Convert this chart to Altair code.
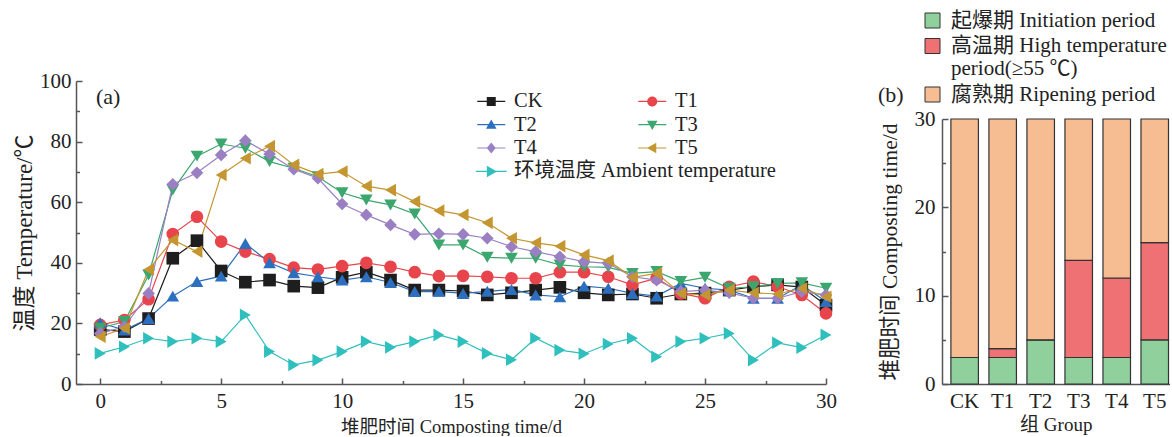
import altair as alt
import pandas as pd

FONT = "Liberation Serif, Noto Sans CJK SC"
TXT = "#222222"
AX = "#555555"

# ---------------- (a) temperature data ----------------
days = list(range(31))
CK = [18.0, 17.3, 21.6, 41.5, 47.3, 37.3, 33.6, 34.3, 32.3, 31.8, 35.2, 36.9, 34.3, 31.0, 31.0, 30.7,
      29.4, 30.1, 31.0, 31.9, 30.1, 29.4, 29.7, 28.3, 29.7, 30.0, 31.0, 32.1, 32.7, 32.0, 26.0]
T1 = [19.5, 21.1, 28.0, 49.5, 55.2, 47.0, 43.7, 41.2, 38.4, 37.8, 38.9, 40.0, 38.7, 36.9, 35.6, 35.7,
      35.4, 34.9, 34.9, 36.9, 36.9, 35.4, 32.7, 34.9, 29.9, 28.3, 32.1, 33.8, 32.1, 29.4, 23.3]
T2 = [20.2, 17.8, 21.6, 29.0, 33.8, 35.6, 46.4, 40.0, 36.7, 35.4, 34.3, 35.4, 33.5, 30.5, 30.6, 29.9,
      30.6, 31.2, 29.4, 28.8, 32.3, 31.6, 29.9, 29.0, 33.2, 31.6, 31.0, 28.3, 28.3, 32.7, 27.2]
T3 = [18.4, 20.6, 36.0, 64.0, 75.2, 79.2, 77.8, 73.4, 71.2, 68.4, 63.1, 60.7, 59.1, 56.1, 45.9, 45.9,
      41.8, 41.5, 41.5, 39.3, 38.7, 38.5, 36.5, 37.1, 33.8, 35.2, 31.6, 32.1, 33.2, 33.4, 31.6]
T4 = [16.7, 18.9, 29.9, 65.9, 69.7, 75.6, 80.3, 75.9, 70.9, 67.9, 59.4, 55.8, 52.5, 49.4, 49.6, 49.4,
      48.1, 45.3, 43.7, 42.0, 40.4, 39.8, 35.4, 34.3, 30.5, 31.0, 30.1, 28.3, 28.3, 30.5, 29.4]
T5 = [15.6, 18.4, 37.8, 47.5, 43.7, 69.0, 74.5, 78.5, 72.3, 69.3, 70.1, 65.3, 64.0, 60.2, 57.2, 55.8,
      53.2, 48.1, 46.6, 45.5, 42.6, 40.7, 35.2, 36.5, 29.9, 29.4, 31.0, 30.1, 29.7, 31.6, 28.8]
AMB = [10.1, 12.3, 15.1, 14.0, 15.1, 14.0, 22.8, 10.7, 6.3, 7.9, 10.7, 14.0, 12.1, 14.0, 16.2, 14.0,
       10.1, 8.0, 15.1, 11.2, 10.0, 13.2, 15.1, 9.0, 14.0, 15.1, 16.7, 7.9, 13.6, 12.0, 16.2]

AMB_LABEL = "环境温度 Ambient temperature"
series_names = ["CK", "T1", "T2", "T3", "T4", "T5", AMB_LABEL]
series_values = [CK, T1, T2, T3, T4, T5, AMB]
series_colors = ["#1e1e1e", "#e8444b", "#2c6fbe", "#3ba66d", "#9a80c3", "#c4962f", "#2fbfbd"]
series_shapes = ["square", "circle", "triangle-up", "triangle-down", "diamond",
                 "triangle-left", "triangle-right"]

x_major = [0, 5, 10, 15, 20, 25, 30]
x_minor = [2.5, 7.5, 12.5, 17.5, 22.5, 27.5]
y_major = [0, 20, 40, 60, 80, 100]
y_minor = [10, 30, 50, 70, 90]

# ---------------- (b) phase data ----------------
groups = ["CK", "T1", "T2", "T3", "T4", "T5"]
phase_names = ["起爆期 Initiation period", "高温期 High temperature period(≥55 ℃)", "腐熟期 Ripening period"]
initiation = [3, 3, 5, 3, 3, 5]
high_temp = [0, 1, 0, 11, 9, 11]
ripening = [27, 26, 25, 16, 18, 14]
phase_colors = ["#8fd09d", "#f07173", "#f6bc92"]
b_major = [0, 10, 20, 30]
b_minor = [5, 15, 25]

# legend symbols: a marker with a line through it (unit box paths)
LINE = "M-2.8,-0.11H2.8V0.11H-2.8Z "
marker_paths = {
    "square": "M-0.9,-0.9H0.9V0.9H-0.9Z",
    "circle": "M-1,0A1,1,0,1,1,1,0A1,1,0,1,1,-1,0Z",
    "triangle-up": "M0,-1.05L1.05,0.8H-1.05Z",
    "triangle-down": "M0,1.05L-1.05,-0.8H1.05Z",
    "diamond": "M0,-1.1L0.9,0L0,1.1L-0.9,0Z",
    "triangle-left": "M-1.05,0L0.8,-1.05V1.05Z",
    "triangle-right": "M1.05,0L-0.8,1.05V-1.05Z",
}
legend_paths = [LINE + marker_paths[s] for s in series_shapes]

rows = []
for name, vals, shp in zip(series_names, series_values, series_shapes):
    for d, v in zip(days, vals):
        rows.append({"day": d, "value": v, "series": name, "shp": shp, "amb": AMB_LABEL})
df = pd.DataFrame(rows)

W, H = 750, 303
xs = alt.Scale(domain=[-1, 30], nice=False, zero=False)
ys = alt.Scale(domain=[0, 100], nice=False)
color_scale = alt.Scale(domain=series_names, range=series_colors)

ROW = 23.4
LEGX = 405
LABOFF = 12.5
leg_main = alt.Legend(title=None, orient="none", legendX=LEGX, legendY=10, columns=2,
                      direction="horizontal", columnPadding=95, rowPadding=2.4,
                      labelFontSize=20.5, labelColor=TXT, labelOffset=LABOFF,
                      values=series_names[:6], padding=0, symbolStrokeWidth=0, labelFont=FONT)

tick_axis_kw = dict(labels=False, domain=False, title=None, grid=False, tickColor=AX, tickWidth=1.5)

hidden_main = alt.Chart(df).transform_filter("datum.day < -100").mark_point(
    filled=True, size=121, opacity=1, strokeWidth=0
).encode(
    x=alt.X("day:Q", scale=xs, axis=alt.Axis(
        values=x_major, ticks=False, domain=True, domainColor=AX, domainWidth=1.5,
        labelFontSize=21, labelColor=TXT, labelPadding=6, labelFlush=False,
        title="堆肥时间 Composting time/d", titleFontSize=18.5, titleFontWeight="normal",
        titleColor=TXT, titlePadding=6, grid=False, orient="bottom")),
    y=alt.Y("value:Q", scale=ys, axis=alt.Axis(
        values=y_major, ticks=False, domain=True, domainColor=AX, domainWidth=1.5,
        labelFontSize=21, labelColor=TXT, labelPadding=5,
        title="温度 Temperature/℃", titleFontSize=23, titleFontWeight="normal",
        titleColor=TXT, titlePadding=3, grid=False, orient="left")),
    color=alt.Color("series:N", scale=color_scale, legend=leg_main),
    shape=alt.Shape("series:N", scale=alt.Scale(domain=series_names, range=legend_paths),
                    legend=leg_main),
)

hidden_amb = alt.Chart(df).transform_filter("datum.day < -100").mark_point(
    filled=True, size=121, opacity=1, strokeWidth=0
).encode(
    x=alt.X("day:Q", scale=xs, axis=None),
    y=alt.Y("value:Q", scale=ys, axis=None),
    fill=alt.Fill("amb:N", scale=alt.Scale(domain=[AMB_LABEL], range=[series_colors[6]]),
                  legend=alt.Legend(title=None, orient="none", legendX=LEGX, legendY=10 + 3 * ROW,
                                    labelFontSize=20.5, labelColor=TXT, labelOffset=LABOFF,
                                    padding=0, symbolType=legend_paths[6], symbolSize=121,
                                    symbolStrokeWidth=0, labelFont=FONT, labelLimit=400)),
)

lines = alt.Chart(df).mark_line(strokeWidth=1.2).encode(
    x=alt.X("day:Q", scale=xs, axis=alt.Axis(values=x_major, orient="top", offset=-H,
                                              tickSize=6, **tick_axis_kw)),
    y=alt.Y("value:Q", scale=ys, axis=alt.Axis(values=y_major, orient="right", offset=-W,
                                                tickSize=6, **tick_axis_kw)),
    color=alt.Color("series:N", scale=color_scale, legend=None),
)

points = alt.Chart(df).mark_point(filled=True, size=160, opacity=1, strokeWidth=0).encode(
    x=alt.X("day:Q", scale=xs, axis=alt.Axis(values=x_minor, orient="top", offset=-H,
                                              tickSize=3.5, **tick_axis_kw)),
    y=alt.Y("value:Q", scale=ys, axis=alt.Axis(values=y_minor, orient="right", offset=-W,
                                                tickSize=3.5, **tick_axis_kw)),
    color=alt.Color("series:N", scale=color_scale, legend=None),
    shape=alt.Shape("shp:N", scale=None),
)

label_a = alt.Chart(pd.DataFrame({"t": ["(a)"]})).mark_text(
    align="left", baseline="middle", fontSize=22, color=TXT, font=FONT
).encode(text="t:N", x=alt.value(20), y=alt.value(16))

left = alt.layer(hidden_main, hidden_amb, lines, points, label_a).resolve_axis(
    x="independent", y="independent"
).properties(width=W, height=H)

# ---------------- right chart ----------------
brows = []
for gi, g in enumerate(groups):
    for pi, (pname, vals) in enumerate(zip(phase_names, [initiation, high_temp, ripening])):
        brows.append({"group": g, "phase": pname, "days": vals[gi], "ord": pi})
bdf = pd.DataFrame(brows)

BW = 227.5
bx = alt.Scale(domain=groups, paddingInner=0.276, paddingOuter=0.13, align=0.9)
by = alt.Scale(domain=[0, 30], range=[H, 38], nice=False)
phase_scale = alt.Scale(domain=phase_names, range=phase_colors)

bars = alt.Chart(bdf).mark_bar(stroke="#333333", strokeWidth=1.2).encode(
    x=alt.X("group:N", scale=bx, sort=groups, axis=alt.Axis(
        ticks=False, domain=True, domainColor=AX, domainWidth=1.5, labelAngle=0,
        labelFontSize=21, labelColor=TXT, labelPadding=6, title="组 Group", titleFontSize=19,
        titleFontWeight="normal", titleColor=TXT, titlePadding=4, orient="bottom")),
    y=alt.Y("days:Q", stack="zero", scale=by, axis=alt.Axis(
        values=b_major, ticks=False, domain=True, domainColor=AX, domainWidth=1.5,
        labelFontSize=21, labelColor=TXT, labelPadding=7, grid=False,
        title="堆肥时间 Composting time/d", titleFontSize=21.5, titleFontWeight="normal",
        titleColor=TXT, titlePadding=13, orient="left")),
    color=alt.Color("phase:N", scale=phase_scale, legend=alt.Legend(
        title=None, orient="none", legendX=-20, legendY=-71, labelFontSize=21, labelColor=TXT,
        labelOffset=8, symbolType="square", symbolSize=225, symbolStrokeColor="#333333",
        symbolStrokeWidth=1, padding=0, rowPadding=3.5, labelFont=FONT, labelLimit=400,
        labelExpr="datum.label == '高温期 High temperature period(≥55 ℃)' ? ['高温期 High temperature', 'period(≥55 ℃)'] : datum.label")),
    order=alt.Order("ord:Q", sort="ascending"),
)

bar_major = alt.Chart(bdf).mark_bar(opacity=0, strokeOpacity=0).encode(
    x=alt.X("group:N", scale=bx, sort=groups, axis=None),
    y=alt.Y("days:Q", stack="zero", scale=by, axis=alt.Axis(
        values=b_major, orient="right", offset=-BW, tickSize=6, **tick_axis_kw)),
    order=alt.Order("ord:Q", sort="ascending"),
)
bar_minor = alt.Chart(bdf).mark_bar(opacity=0, strokeOpacity=0).encode(
    x=alt.X("group:N", scale=bx, sort=groups, axis=None),
    y=alt.Y("days:Q", stack="zero", scale=by, axis=alt.Axis(
        values=b_minor, orient="right", offset=-BW, tickSize=3.5, **tick_axis_kw)),
    order=alt.Order("ord:Q", sort="ascending"),
)

label_b = alt.Chart(pd.DataFrame({"t": ["(b)"]})).mark_text(
    align="left", baseline="middle", fontSize=22, color=TXT, font=FONT
).encode(text="t:N", x=alt.value(-64), y=alt.value(14))

right = alt.layer(bars, bar_major, bar_minor, label_b).resolve_axis(
    x="independent", y="independent"
).properties(width=BW, height=H)

chart = alt.hconcat(left, right, spacing=41).resolve_scale(
    color="independent", shape="independent", fill="independent"
).resolve_legend(color="independent", shape="independent", fill="independent").properties(
    padding={"left": 13, "top": 10, "right": 0, "bottom": 0}
).configure(font=FONT).configure_view(stroke=None).configure_axis(
    labelFont=FONT, titleFont=FONT
).configure_legend(labelFont=FONT)

chart.save("out.html", embed_options={"renderer": "svg", "actions": False})
